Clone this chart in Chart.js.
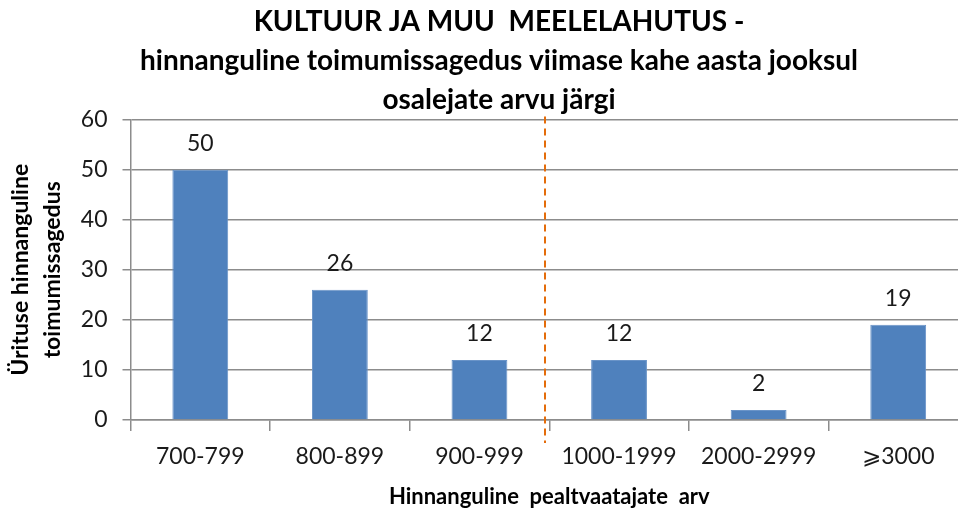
<!DOCTYPE html>
<html>
<head>
<meta charset="utf-8">
<script src="https://cdn.jsdelivr.net/npm/chart.js@4.4.0/dist/chart.umd.min.js"></script>
<style>
  html, body { margin: 0; padding: 0; background: #ffffff; overflow: hidden; }
  #wrap { width: 958px; height: 508px; overflow: hidden; position: relative; }
  canvas { display: block; }
</style>
</head>
<body>
<div id="wrap"><canvas id="c" width="972" height="508"></canvas></div>
<script>
// ---- data ----
const categories = ["700-799", "800-899", "900-999", "1000-1999", "2000-2999", "\u2A7E3000"];
const frequencyValues = [50, 26, 12, 12, 2, 19];
const yTickValues = [0, 10, 20, 30, 40, 50, 60];
const titleLines = ["KULTUUR JA MUU  MEELELAHUTUS -", "hinnanguline toimumissagedus viimase kahe aasta jooksul", "osalejate arvu järgi"];
const yAxisTitle = ["Ürituse hinnanguline", "toimumissagedus"];
const xAxisTitle = "Hinnanguline  pealtvaatajate  arv";
const dividerAfterIndex = 2; // dashed separator between categories 2 and 3

const FONT = "Lato, 'Open Sans', 'DejaVu Sans', sans-serif";

const valueLabels = {
  id: 'valueLabels',
  afterDatasetsDraw(chart) {
    const ctx = chart.ctx;
    const meta = chart.getDatasetMeta(0);
    ctx.save();
    ctx.font = "23px " + FONT;
    ctx.fillStyle = "#1a1a1a";
    ctx.textAlign = "center";
    ctx.textBaseline = "middle";
    meta.data.forEach((bar, i) => {
      ctx.fillText(String(chart.data.datasets[0].data[i]), bar.x, bar.y - 26);
    });
    ctx.restore();
  }
};

const divider = {
  id: 'divider',
  afterDatasetsDraw(chart) {
    const xs = chart.scales.x;
    const x = Math.round(xs.getPixelForValue(dividerAfterIndex + 0.5)) - 4;
    const ctx = chart.ctx;
    ctx.save();
    ctx.strokeStyle = "#E46C0A";
    ctx.lineWidth = 2;
    ctx.setLineDash([7, 5]);
    ctx.beginPath();
    ctx.moveTo(x, chart.chartArea.top - 3);
    ctx.lineTo(x, chart.chartArea.bottom + 23);
    ctx.stroke();
    ctx.restore();
  }
};

const titleShift = {
  id: 'titleShift',
  afterLayout(chart) {
    const t = chart.titleBlock;
    if (t) { t.left += 15; t.right += 15; }
  }
};

new Chart(document.getElementById('c'), {
  type: 'bar',
  data: {
    labels: categories,
    datasets: [{
      data: frequencyValues,
      backgroundColor: '#4F81BD',
      borderColor: '#6A94C8',
      borderWidth: 1,
      categoryPercentage: 1.0,
      barPercentage: 0.40
    }]
  },
  plugins: [valueLabels, divider, titleShift],
  options: {
    responsive: false,
    animation: false,
    devicePixelRatio: 1,
    layout: { padding: { left: 0, right: 4, top: 0, bottom: 0 } },
    plugins: {
      legend: { display: false },
      tooltip: { enabled: false },
      title: {
        display: true,
        text: titleLines,
        color: '#000000',
        font: { family: FONT, size: 28, weight: 'bold', lineHeight: 1.4 },
        padding: { top: 2, bottom: 0 }
      }
    },
    scales: {
      x: {
        afterFit(scale) { scale.height = 88; },
        offset: true,
        border: { display: true, color: '#8c8c8c', width: 1.5 },
        grid: {
          offset: true,
          drawOnChartArea: false,
          drawTicks: true,
          tickLength: 11,
          color: '#8c8c8c',
          lineWidth: 1.5
        },
        ticks: {
          color: '#1a1a1a',
          font: { family: FONT, size: 23 },
          padding: 12,
          maxRotation: 0,
          autoSkip: false
        },
        title: {
          display: true,
          text: xAxisTitle,
          color: '#000000',
          font: { family: FONT, size: 22, weight: 'bold', lineHeight: 1 },
          padding: { top: 0, bottom: 0 }
        }
      },
      y: {
        afterFit(scale) { scale.width = 130.5; },
        min: 0,
        max: 60,
        afterBuildTicks(scale) { scale.ticks = yTickValues.map(v => ({ value: v })); },
        border: { display: true, color: '#8c8c8c', width: 1.5 },
        grid: {
          color: '#8c8c8c',
          lineWidth: 1.5,
          drawTicks: true,
          tickLength: 8
        },
        ticks: {
          color: '#1a1a1a',
          font: { family: FONT, size: 23 },
          padding: 15
        },
        title: {
          display: true,
          text: yAxisTitle,
          color: '#000000',
          font: { family: FONT, size: 23, weight: 'bold', lineHeight: 1.39 },
          padding: { top: 5, bottom: 0 }
        }
      }
    }
  }
});
</script>
</body>
</html>
